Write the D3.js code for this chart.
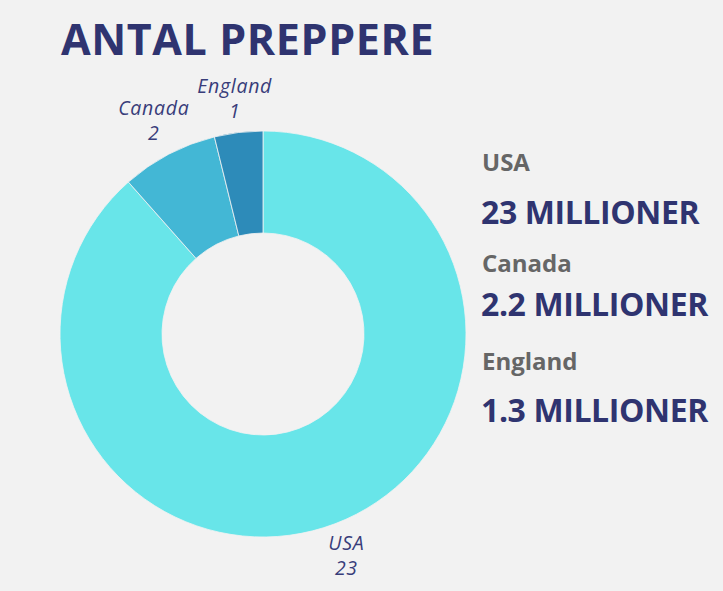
<!DOCTYPE html>
<html><head><meta charset="utf-8">
<script src="https://cdn.jsdelivr.net/npm/d3@7"></script>
<style>html,body{margin:0;padding:0;background:#f2f2f2;}</style>
</head><body>
<script>
const categories = ["USA", "Canada", "England"];
const values = [23, 2, 1];
const legendLabels = ["USA", "Canada", "England"];
const legendValues = ["23 MILLIONER", "2.2 MILLIONER", "1.3 MILLIONER"];
const colors = ["#68e5e9", "#43b7d5", "#2d8bb9"];

const W = 723, H = 591;
const svg = d3.select("body").append("svg").attr("width", W).attr("height", H)
  .style("background", "#f2f2f2").style("display","block");

svg.append("text").attr("x", 61).attr("y", 55)
  .attr("font-family", "Open Sans").attr("font-weight", 700).attr("font-size", 43)
  .attr("letter-spacing", 0.6)
  .attr("fill", "#2f3470").text("ANTAL PREPPERE");

const cx = 263, cy = 334, rOut = 203, rIn = 101, rLab = 235;
const data = categories.map((c, i) => ({cat: c, value: values[i], color: colors[i]}));
const pie = d3.pie().value(d => d.value).sort((a, b) => a.value - b.value)
  .startAngle(0).endAngle(-2 * Math.PI);
const arcs = pie(data);
const arc = d3.arc().innerRadius(rIn).outerRadius(rOut);
const g = svg.append("g").attr("transform", `translate(${cx},${cy})`);
g.selectAll("path").data(arcs).join("path")
  .attr("d", arc).attr("fill", d => d.data.color)
  .attr("stroke", "#f2f2f2").attr("stroke-width", 0.8);

const labArc = d3.arc().innerRadius(rLab).outerRadius(rLab);
const lab = g.selectAll("g.lab").data(arcs).join("g").attr("class", "lab")
  .attr("transform", d => `translate(${labArc.centroid(d)})`);
const dy1 = {USA: -4, Canada: -11, England: -8};
lab.append("text").attr("text-anchor", "middle").attr("y", d => dy1[d.data.cat])
  .attr("font-family", "Open Sans").attr("font-style", "italic").attr("font-weight", 400)
  .attr("font-size", 19.5).attr("letter-spacing", 0.7)
  .attr("fill", "#383d7a").text(d => d.data.cat);
lab.append("text").attr("text-anchor", "middle").attr("y", d => dy1[d.data.cat] + 25)
  .attr("font-family", "Open Sans").attr("font-style", "italic").attr("font-weight", 400)
  .attr("font-size", 19.5).attr("letter-spacing", 0.7)
  .attr("fill", "#383d7a").text(d => d.data.value);

const ly = [171, 272, 370], vy = [224, 316, 422];
legendLabels.forEach((l, i) => {
  svg.append("text").attr("x", 482).attr("y", ly[i])
    .attr("font-family", "Open Sans").attr("font-weight", 700).attr("font-size", 24)
    .attr("fill", "#666666").text(l);
  svg.append("text").attr("x", 481).attr("y", vy[i])
    .attr("font-family", "Open Sans").attr("font-weight", 700).attr("font-size", 32)
    .attr("letter-spacing", -0.4)
    .attr("fill", "#2f3470").text(legendValues[i]);
});
</script>
</body></html>
